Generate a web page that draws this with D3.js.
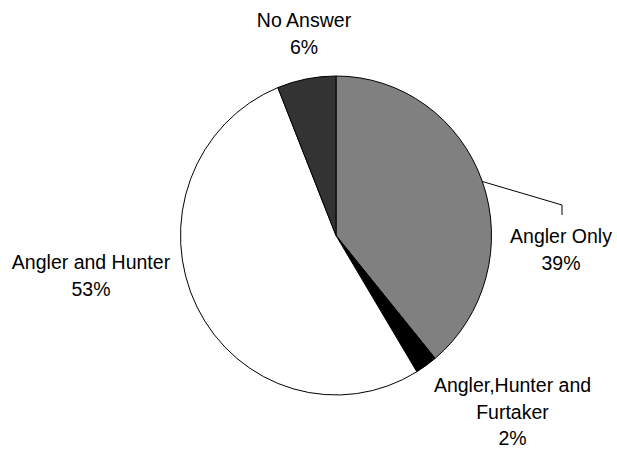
<!DOCTYPE html>
<html>
<head>
<meta charset="utf-8">
<script src="https://cdn.jsdelivr.net/npm/d3@7/dist/d3.min.js"></script>
<style>
  html, body { margin: 0; padding: 0; background: #fff; }
  text { font-family: "Liberation Sans", Arial, sans-serif; font-size: 19.5px; fill: #000; }
</style>
</head>
<body>
<svg id="chart" width="617" height="450"></svg>
<script>
// ---- data ----
const categories = ["Angler Only", "Angler,Hunter and Furtaker", "Angler and Hunter", "No Answer"];
const values = [39.0, 2.3, 52.6, 6.1];
const labelLines = [["Angler Only"], ["Angler,Hunter and", "Furtaker"], ["Angler and Hunter"], ["No Answer"]];
const colors = ["#808080", "#000000", "#ffffff", "#333333"];

// ---- layout ----
const W = 617, H = 450;
const cx = 336, cy = 235.5, rx = 155.5, ry = 159.5;
const lineH = 26.7;
// label anchor (center x, first baseline) per slice
const labelPos = [
  { x: 561, y: 243 },
  { x: 512.5, y: 392 },
  { x: 91, y: 269 },
  { x: 304, y: 27 }
];

const svg = d3.select("#chart");
const total = d3.sum(values);
const data = categories.map((c, i) => ({ name: c, value: values[i], color: colors[i], lines: labelLines[i], pos: labelPos[i] }));

const pie = d3.pie().value(d => d.value).sort(null);
const arcs = pie(data);
const arc = d3.arc().innerRadius(0).outerRadius(ry);

const g = svg.append("g")
  .attr("transform", `translate(${cx},${cy}) scale(${rx / ry},1)`);

g.selectAll("path")
  .data(arcs)
  .join("path")
  .attr("d", arc)
  .attr("fill", d => d.data.color)
  .attr("stroke", "#000")
  .attr("stroke-width", 1)
  .attr("vector-effect", "non-scaling-stroke");

// leader line for Angler Only
const a0 = arcs[0];
const mid = (a0.startAngle + a0.endAngle) / 2;
const px = cx + rx * Math.sin(mid), py = cy - ry * Math.cos(mid);
const lp = labelPos[0];
svg.append("path")
  .attr("d", d3.line()([[px, py], [lp.x + 1, 205], [lp.x + 1, 215]]))
  .attr("fill", "none")
  .attr("stroke", "#000")
  .attr("stroke-width", 1);

// labels
const lab = svg.selectAll("g.label")
  .data(arcs)
  .join("g")
  .attr("class", "label");

lab.each(function(d) {
  const sel = d3.select(this);
  const lines = d.data.lines.concat([Math.round(d.data.value / total * 100) + "%"]);
  const t = sel.append("text")
    .attr("text-anchor", "middle")
    .attr("x", d.data.pos.x)
    .attr("y", d.data.pos.y);
  lines.forEach((ln, i) => {
    t.append("tspan")
      .attr("x", d.data.pos.x)
      .attr("dy", i === 0 ? 0 : lineH)
      .text(ln);
  });
});
</script>
</body>
</html>
